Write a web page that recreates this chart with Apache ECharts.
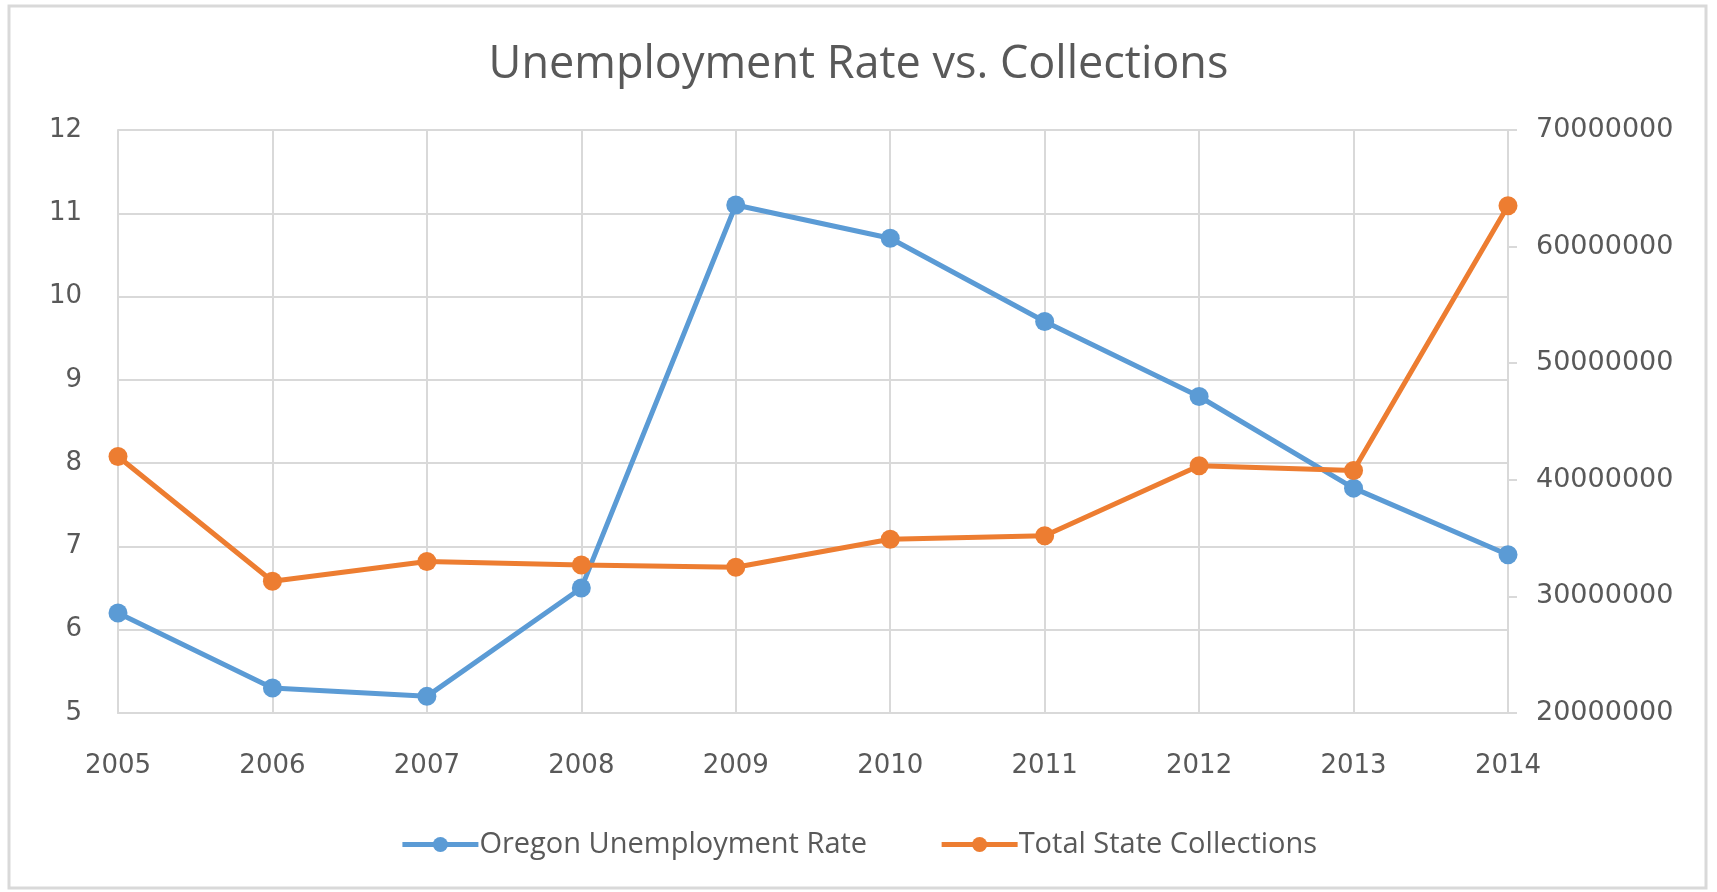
<!DOCTYPE html>
<html>
<head>
<meta charset="utf-8">
<script src="https://cdn.jsdelivr.net/npm/echarts@6/dist/echarts.min.js"></script>
<style>
  html, body { margin: 0; padding: 0; background: #ffffff; }
  #chart { width: 1717px; height: 892px; }
</style>
</head>
<body>
<div id="chart"></div>
<script>
// Years on the category axis
const years = ['2005', '2006', '2007', '2008', '2009', '2010', '2011', '2012', '2013', '2014'];

// Oregon unemployment rate (%)
const unemploymentRate = [6.2, 5.3, 5.2, 6.5, 11.1, 10.7, 9.7, 8.8, 7.7, 6.9];

// Total state collections (dollars)
const stateCollections = [42000000, 31300000, 33000000, 32700000, 32500000, 34900000, 35200000, 41200000, 40800000, 63500000];

const axisFont = '"DejaVu Sans", Verdana, sans-serif';
const narrowFont = '"Open Sans", sans-serif';
const textColor = '#595959';
const gridColor = '#d9d9d9';

const chart = echarts.init(document.getElementById('chart'));

chart.setOption({
  backgroundColor: '#ffffff',
  animation: false,
  title: {
    text: 'Unemployment Rate vs. Collections',
    left: 'center',
    top: 38,
    textStyle: {
      fontFamily: narrowFont,
      fontSize: 45,
      fontWeight: 'normal',
      color: textColor
    }
  },
  graphic: [{
    type: 'rect',
    shape: { x: 9, y: 6, width: 1697, height: 882 },
    style: { fill: 'none', stroke: '#d9d9d9', lineWidth: 3 },
    silent: true
  }],
  legend: {
    bottom: 28,
    left: 'center',
    itemGap: 72,
    itemWidth: 76,
    itemHeight: 19,
    lineStyle: { width: 5 },
    textStyle: {
      fontFamily: narrowFont,
      fontSize: 29,
      color: textColor,
      padding: [0, 0, 0, -4]
    },
    data: ['Oregon Unemployment Rate', 'Total State Collections']
  },
  grid: {
    left: 118,
    right: 209,
    top: 130,
    bottom: 179,
    containLabel: false
  },
  xAxis: {
    type: 'category',
    data: years,
    boundaryGap: false,
    axisLine: { show: true, lineStyle: { color: gridColor, width: 2 } },
    axisTick: { show: false },
    axisLabel: {
      fontFamily: axisFont,
      fontSize: 26,
      color: textColor,
      margin: 40
    },
    splitLine: { show: true, lineStyle: { color: gridColor, width: 2 } }
  },
  yAxis: [{
    type: 'value',
    min: 5,
    max: 12,
    interval: 1,
    axisLine: { show: true, lineStyle: { color: gridColor, width: 2 } },
    axisTick: { show: false },
    axisLabel: {
      fontFamily: axisFont,
      fontSize: 26,
      color: textColor,
      margin: 36
    },
    splitLine: { show: true, lineStyle: { color: gridColor, width: 2 } }
  }, {
    type: 'value',
    position: 'right',
    min: 20000000,
    max: 70000000,
    interval: 10000000,
    axisLine: { show: true, lineStyle: { color: gridColor, width: 2 } },
    axisTick: { show: true, inside: false, length: 9, lineStyle: { color: gridColor, width: 2 } },
    axisLabel: {
      fontFamily: axisFont,
      fontSize: 27,
      color: textColor,
      margin: 28,
      formatter: (v) => String(v)
    },
    splitLine: { show: false }
  }],
  series: [{
    name: 'Oregon Unemployment Rate',
    type: 'line',
    yAxisIndex: 0,
    data: unemploymentRate,
    symbol: 'circle',
    symbolSize: 19,
    color: '#5b9bd5',
    lineStyle: { width: 5, color: '#5b9bd5' },
    itemStyle: { color: '#5b9bd5' }
  }, {
    name: 'Total State Collections',
    type: 'line',
    yAxisIndex: 1,
    data: stateCollections,
    symbol: 'circle',
    symbolSize: 19,
    color: '#ed7d31',
    lineStyle: { width: 5, color: '#ed7d31' },
    itemStyle: { color: '#ed7d31' }
  }]
});
</script>
</body>
</html>
